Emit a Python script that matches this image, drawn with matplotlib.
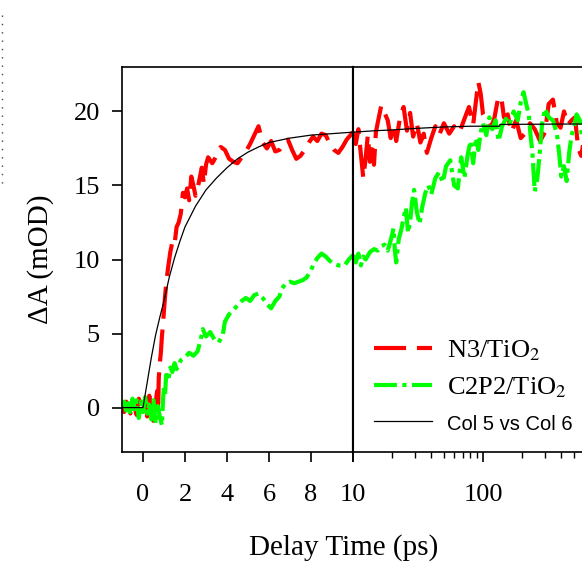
import numpy as np
import matplotlib
matplotlib.use('Agg')
import matplotlib.pyplot as plt
from matplotlib.lines import Line2D
from matplotlib.ticker import FixedLocator, LogLocator, NullFormatter

plt.rcParams['font.family'] = ['Liberation Serif', 'DejaVu Serif']
plt.rcParams['mathtext.fontset'] = 'stix'

# N3/TiO2, linear part (-1 .. 10 ps)
n3_t_lin = [-1.0, -0.9, -0.8, -0.7, -0.6, -0.5, -0.4, -0.3, -0.2, -0.1, 0.0, 0.1, 0.2, 0.3, 0.4,
            0.5, 0.6, 0.67, 0.72, 0.75, 0.8, 0.85, 0.9, 0.95, 1.0, 1.05, 1.12, 1.2, 1.3, 1.4, 1.5,
            1.6, 1.7, 1.8, 1.9, 2.0, 2.1, 2.2, 2.3, 2.4, 2.5, 2.6, 2.7, 2.8, 2.9, 3.0, 3.1, 3.3,
            3.5, 3.7, 3.9, 4.1, 4.3, 4.5, 4.7, 4.9, 5.1, 5.3, 5.5, 5.7, 5.9, 6.1, 6.3, 6.5, 6.7,
            6.9, 7.1, 7.3, 7.5, 7.7, 7.9, 8.1, 8.3, 8.5, 8.7, 8.9, 9.1, 9.3, 9.5, 9.7, 10.0]
n3_a_lin = [0.2, -0.3, 0.4, 0.1, -0.4, 0.3, 0.0, -0.5, 0.6, 0.2, -0.3, 0.5, -0.6, 0.8, -0.2,
            -0.9, 0.3, 1.1, -0.2, 2.0, 3.0, 3.7, 4.8, 5.6, 6.6, 7.5, 8.6, 9.5, 10.5, 11.2, 11.0,
            12.2, 12.5, 13.1, 14.5, 14.2, 14.8, 14.0, 15.6, 15.0, 14.3, 14.8, 15.5, 16.2, 15.1,
            16.4, 16.9, 16.5, 17.0, 17.6, 17.4, 16.8, 16.6, 16.5, 16.9, 17.3, 17.8, 18.4, 19.0,
            17.9, 17.5, 18.0, 17.3, 17.4, 17.8, 18.1, 17.4, 16.8, 17.0, 17.4, 17.9, 18.3, 18.0,
            18.5, 18.4, 17.8, 17.4, 17.2, 17.6, 18.1, 18.6]

# N3/TiO2, log part (10 ps ..)
n3_t_log = [10, 10.5, 11, 11.5, 12, 12.5, 13, 13.5, 14, 14.5, 15, 15.8, 16.5, 17.5, 18.5, 19.5,
            20.5, 21.5, 23, 24.5, 26, 27.5, 29, 31, 33, 35, 37, 40, 43, 46, 50, 55, 60, 66, 72,
            78, 84, 88, 92, 96, 100, 108, 115, 122, 130, 138, 145, 155, 165, 180, 195, 210, 230,
            250, 275, 300, 320, 345, 370, 395, 420, 450, 480, 510, 540, 570, 600]
n3_a_log = [18.6, 17.8, 18.8, 17.1, 15.5, 16.8, 18.4, 16.6, 17.9, 16.4, 18.6, 19.6, 20.4, 19.9,
            19.4, 18.2, 19.1, 18.0, 19.6, 20.3, 18.7, 19.9, 18.3, 19.2, 17.9, 18.5, 17.2, 18.2,
            19.0, 18.4, 19.2, 18.5, 19.0, 18.6, 19.5, 20.3, 19.1, 20.6, 22.0, 21.2, 19.8, 19.3,
            18.9, 19.5, 20.8, 21.0, 19.6, 19.8, 18.6, 19.4, 18.2, 18.5, 19.2, 18.8, 18.0, 18.6,
            20.5, 20.8, 19.2, 18.9, 20.0, 19.1, 19.4, 19.6, 17.5, 17.0, 18.2]

# C2P2/TiO2
c2_t_lin = [-1.0, -0.9, -0.8, -0.7, -0.6, -0.5, -0.4, -0.3, -0.2, -0.1, 0.0, 0.1, 0.2, 0.3, 0.4,
            0.5, 0.6, 0.7, 0.8, 0.9, 0.95, 1.0, 1.05, 1.1, 1.2, 1.3, 1.4, 1.5, 1.6, 1.8, 2.0, 2.2,
            2.4, 2.6, 2.75, 2.85, 3.0, 3.2, 3.4, 3.6, 3.8, 3.9, 4.1, 4.3, 4.5, 4.7, 4.9, 5.1, 5.3,
            5.5, 5.7, 5.9, 6.1, 6.3, 6.5, 6.6, 6.8, 7.0, 7.2, 7.4, 7.6, 7.8, 8.0, 8.1, 8.3, 8.5,
            8.7, 8.9, 9.1, 9.3, 9.6, 9.8, 10.0]
c2_a_lin = [0.1, 0.4, -0.2, 0.3, -0.5, 0.6, -0.1, 0.5, -0.7, 0.4, -0.3, 0.7, -0.4, 0.2, -0.8,
            0.5, -1.1, 0.1, -0.6, -1.2, 0.4, 1.5, 0.8, 2.2, 1.8, 2.7, 2.4, 3.0, 2.6, 3.2, 3.4, 3.7,
            3.5, 3.8, 4.6, 5.3, 4.8, 5.1, 4.6, 4.4, 4.9, 5.8, 6.3, 6.6, 6.9, 7.2, 7.4, 7.2, 7.6,
            7.7, 7.4, 7.0, 6.7, 7.2, 7.5, 8.0, 8.4, 8.5, 8.4, 8.5, 8.6, 8.8, 9.3, 9.6, 10.1, 10.4,
            10.2, 9.9, 9.7, 9.6, 9.6, 10.0, 10.3]

c2_t_log = [10, 10.5, 11, 11.5, 12, 12.5, 13.5, 14.5, 15.5, 16.5, 17.5, 18.5, 19.5, 20.5, 21,
            21.5, 22.5, 23.5, 24.5, 25.5, 26.5, 27.5, 28.5, 29.5, 31, 32.5, 34, 36, 38, 40, 43,
            46, 49, 52, 56, 60, 64, 68, 72, 76, 80, 84, 88, 92, 96, 100, 106, 112, 118, 125, 132,
            140, 150, 160, 172, 185, 195, 205, 215, 225, 232, 240, 250, 262, 272, 285, 300, 320,
            345, 370, 385, 400, 420, 440, 460, 480, 500, 525, 555, 580]
c2_a_log = [10.3, 9.8, 10.4, 9.6, 10.2, 10.0, 10.5, 10.7, 10.6, 10.9, 11.0, 10.6, 11.3, 12.1,
            10.6, 9.8, 11.4, 12.0, 12.8, 13.5, 11.8, 12.6, 13.9, 14.7, 13.2, 12.4, 13.5, 14.5,
            15.0, 14.4, 15.5, 15.9, 15.2, 16.3, 16.7, 15.0, 14.8, 16.9, 15.5, 17.0, 18.0, 16.5,
            18.2, 17.4, 18.6, 19.2, 18.4, 19.6, 18.8, 19.4, 18.0, 19.0, 19.5, 19.1, 20.0, 19.4,
            20.6, 21.3, 20.5, 19.8, 18.4, 17.2, 14.6, 15.5, 17.0, 19.2, 20.2, 19.6, 19.4, 18.5,
            17.2, 15.6, 16.3, 15.3, 17.2, 18.4, 18.9, 19.8, 19.4, 18.2]

# Col 5 vs Col 6 (fit curve)
fit_t_lin = [-1.0, 0.0, 0.2, 0.4, 0.6, 0.8, 1.0, 1.25, 1.5, 1.75, 2.0, 2.5, 3.0, 3.5, 4.0, 4.5,
             5.0, 5.5, 6.0, 7.0, 8.0, 9.0, 10.0]
fit_a_lin = [0.0, 0.0, 1.7, 3.4, 4.9, 6.1, 7.2, 8.8, 10.1, 11.2, 12.2, 13.6, 14.7, 15.5, 16.2,
             16.8, 17.25, 17.6, 17.9, 18.2, 18.4, 18.5, 18.6]
fit_t_log = [10, 15, 20, 30, 50, 80, 134, 135, 200, 500, 1000]
fit_a_log = [18.6, 18.7, 18.75, 18.85, 18.95, 19.0, 19.0, 19.12, 19.13, 19.15, 19.15]

W, H = 582, 563
fig = plt.figure(figsize=(W / 100, H / 100), dpi=100)

x0, x1, x2 = 122, 353, 613
ytop, ybot = 67, 452
ax1 = fig.add_axes([x0 / W, 1 - ybot / H, (x1 - x0) / W, (ybot - ytop) / H])
ax2 = fig.add_axes([x1 / W, 1 - ybot / H, (x2 - x1) / W, (ybot - ytop) / H])

red_kw = dict(color='#ff0000', lw=3, dashes=(7.7, 2.6))
green_kw = dict(color='#00ff00', lw=3, dashes=(5.5, 1.3, 1.0, 1.3))
fit_kw = dict(color='black', lw=0.9)

l_red, = ax1.plot(n3_t_lin, n3_a_lin, **red_kw)
l_grn, = ax1.plot(c2_t_lin, c2_a_lin, **green_kw)
l_fit, = ax1.plot(fit_t_lin, fit_a_lin, **fit_kw)
ax2.plot(n3_t_log, n3_a_log, **red_kw)
ax2.plot(c2_t_log, c2_a_log, **green_kw)
ax2.plot(fit_t_log, fit_a_log, **fit_kw)

for ax in (ax1, ax2):
    ax.set_ylim(-3, 23)
    for s in ax.spines.values():
        s.set_linewidth(1.2)
    ax.tick_params(direction='out', length=7, width=1.2, labelsize=19, pad=16)
    ax.tick_params(which='minor', direction='out', length=4, width=1.0)
ax1.spines['right'].set_linewidth(1.5)
ax2.spines['left'].set_linewidth(1.5)

ax1.set_xlim(-1, 10)
ax1.set_xticks([0, 2, 4, 6, 8, 10])
ax1.set_yticks([0, 5, 10, 15, 20])
ax1.tick_params(axis='y', pad=9)

ax2.set_xscale('log')
ax2.set_xlim(10, 1000)
ax2.xaxis.set_major_locator(FixedLocator([10, 100, 1000]))
ax2.set_xticklabels(['', '100', ''])
ax2.xaxis.set_minor_locator(LogLocator(base=10, subs=np.arange(2, 10)))
ax2.xaxis.set_minor_formatter(NullFormatter())
ax2.tick_params(axis='y', left=False, labelleft=False)

ax1.set_ylabel('ΔA (mOD)', fontsize=21, labelpad=14)
fig.text(0.5 * (248 + 440) / W, 1 - 548 / H, 'Delay Time (ps)', fontsize=21,
         ha='center', va='center')

leg = fig.legend([l_red, l_grn, l_fit], ['N3/TiO$_2$', 'C2P2/TiO$_2$', 'Col 5 vs Col 6'],
                 loc='upper left', bbox_to_anchor=(374 / W, 1 - 338 / H), frameon=False,
                 fontsize=19, borderpad=0, borderaxespad=0, handlelength=2.2,
                 handletextpad=0.55, labelspacing=0.47)
txt = leg.get_texts()[2]
txt.set_fontfamily(['Liberation Sans', 'DejaVu Sans'])
txt.set_fontsize(14.5)

# dotted remnant at the top-left edge
fig.add_artist(Line2D([1.5 / W, 1.5 / W], [1 - 15 / H, 1 - 188 / H], transform=fig.transFigure,
                      color='#444444', lw=1.0, ls=(0, (1, 5))))

fig.savefig('out.png', dpi=100)
